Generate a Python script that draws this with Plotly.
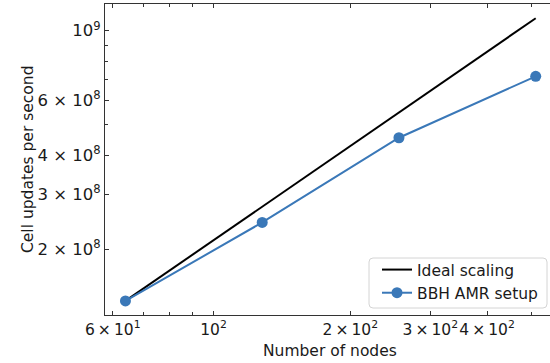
import math
import plotly.graph_objects as go

# Strong-scaling benchmark data
nodes = [64, 128, 256, 512]
cell_updates = [1.37e8, 2.44e8, 4.55e8, 7.15e8]
ideal_updates = [1.37e8, 2.74e8, 5.48e8, 1.096e9]

X_TIMES = "\u2009×\u2009"
x_tickvals = [60, 100, 200, 300, 400]
x_ticktext = [f"6{X_TIMES}10<sup>1</sup>", "10<sup>2</sup>", f"2{X_TIMES}10<sup>2</sup>",
              f"3{X_TIMES}10<sup>2</sup>", f"4{X_TIMES}10<sup>2</sup>"]
x_minorvals = [70, 80, 90, 500]

Y_TIMES = " × "
y_tickvals = [2e8, 3e8, 4e8, 6e8, 1e9]
y_ticktext = [f"2{Y_TIMES}10<sup>8</sup>", f"3{Y_TIMES}10<sup>8</sup>", f"4{Y_TIMES}10<sup>8</sup>",
              f"6{Y_TIMES}10<sup>8</sup>", "10<sup>9</sup>"]
y_minorvals = [5e8, 7e8, 8e8, 9e8]

FONT = "DejaVu Sans"
BLUE = "#3a78b8"
SPINE = "#333333"
TEXT = "#1a1a1a"

# plot-area geometry in pixels
L, R, T, B = 105, 550, 4, 315
PW, PH = R - L, B - T


def px_x(x):
    return (x - L) / PW


def px_y(y):
    return (B - y) / PH


fig = go.Figure()
fig.add_trace(go.Scatter(
    x=nodes, y=ideal_updates, mode="lines", name="Ideal scaling",
    line=dict(color="black", width=2),
))
fig.add_trace(go.Scatter(
    x=nodes, y=cell_updates, mode="lines+markers", name="BBH AMR setup",
    line=dict(color=BLUE, width=2),
    marker=dict(color=BLUE, size=11),
))

fig.update_layout(
    width=550, height=363,
    margin=dict(l=L, r=550 - R, t=T, b=363 - B),
    paper_bgcolor="white", plot_bgcolor="white",
    font=dict(family=FONT, size=15, color=TEXT),
    showlegend=True,
    legend=dict(
        x=px_x(377), y=px_y(253), xanchor="left", yanchor="top",
        bgcolor="rgba(0,0,0,0)", borderwidth=0,
        font=dict(family=FONT, size=15.5, color=TEXT),
        tracegroupgap=0, itemwidth=30,
    ),
)

# rounded legend frame
x0, x1, y0, y1, r = px_x(369), px_x(547), px_y(308), px_y(258), 4
rx, ry = r / PW, r / PH
frame = (f"M {x0 + rx},{y0} L {x1 - rx},{y0} Q {x1},{y0} {x1},{y0 + ry} "
         f"L {x1},{y1 - ry} Q {x1},{y1} {x1 - rx},{y1} "
         f"L {x0 + rx},{y1} Q {x0},{y1} {x0},{y1 - ry} "
         f"L {x0},{y0 + ry} Q {x0},{y0} {x0 + rx},{y0} Z")
fig.add_shape(type="path", path=frame, xref="paper", yref="paper",
              fillcolor="rgba(255,255,255,0.85)",
              line=dict(color="#d4d4d4", width=1), layer="above")

fig.update_xaxes(
    type="log",
    range=[math.log10(57.7), 2.7407],
    showgrid=False, zeroline=False,
    showline=True, linecolor=SPINE, linewidth=1.2, mirror="ticks",
    ticks="inside", ticklen=4, tickcolor=SPINE, tickwidth=1,
    tickmode="array", tickvals=x_tickvals, ticktext=x_ticktext,
    tickangle=0,
    tickfont=dict(family=FONT, size=15.5, color=TEXT),
    minor=dict(tickmode="array", tickvals=x_minorvals, ticks="inside",
               ticklen=2.5, tickcolor=SPINE, tickwidth=1, showgrid=False),
)
fig.update_yaxes(
    type="log",
    range=[8.0917, 9.0853],
    showgrid=False, zeroline=False,
    showline=True, linecolor=SPINE, linewidth=1.2, mirror=False,
    ticks="inside", ticklen=4, tickcolor=SPINE, tickwidth=1,
    tickmode="array", tickvals=y_tickvals, ticktext=y_ticktext,
    tickangle=0,
    tickfont=dict(family=FONT, size=16.5, color=TEXT),
    minor=dict(tickmode="array", tickvals=y_minorvals, ticks="inside",
               ticklen=2.5, tickcolor=SPINE, tickwidth=1, showgrid=False),
)

# Axis titles placed as annotations for precise positioning
fig.add_annotation(
    text="Number of nodes", xref="paper", yref="paper",
    x=px_x(330), y=px_y(351),
    xanchor="center", yanchor="middle", showarrow=False,
    font=dict(family=FONT, size=15.5, color=TEXT),
)
fig.add_annotation(
    text="Cell updates per second", xref="paper", yref="paper",
    x=px_x(28), y=px_y(160), textangle=-90,
    xanchor="center", yanchor="middle", showarrow=False,
    font=dict(family=FONT, size=15.5, color=TEXT),
)

fig.write_html("out.html")
